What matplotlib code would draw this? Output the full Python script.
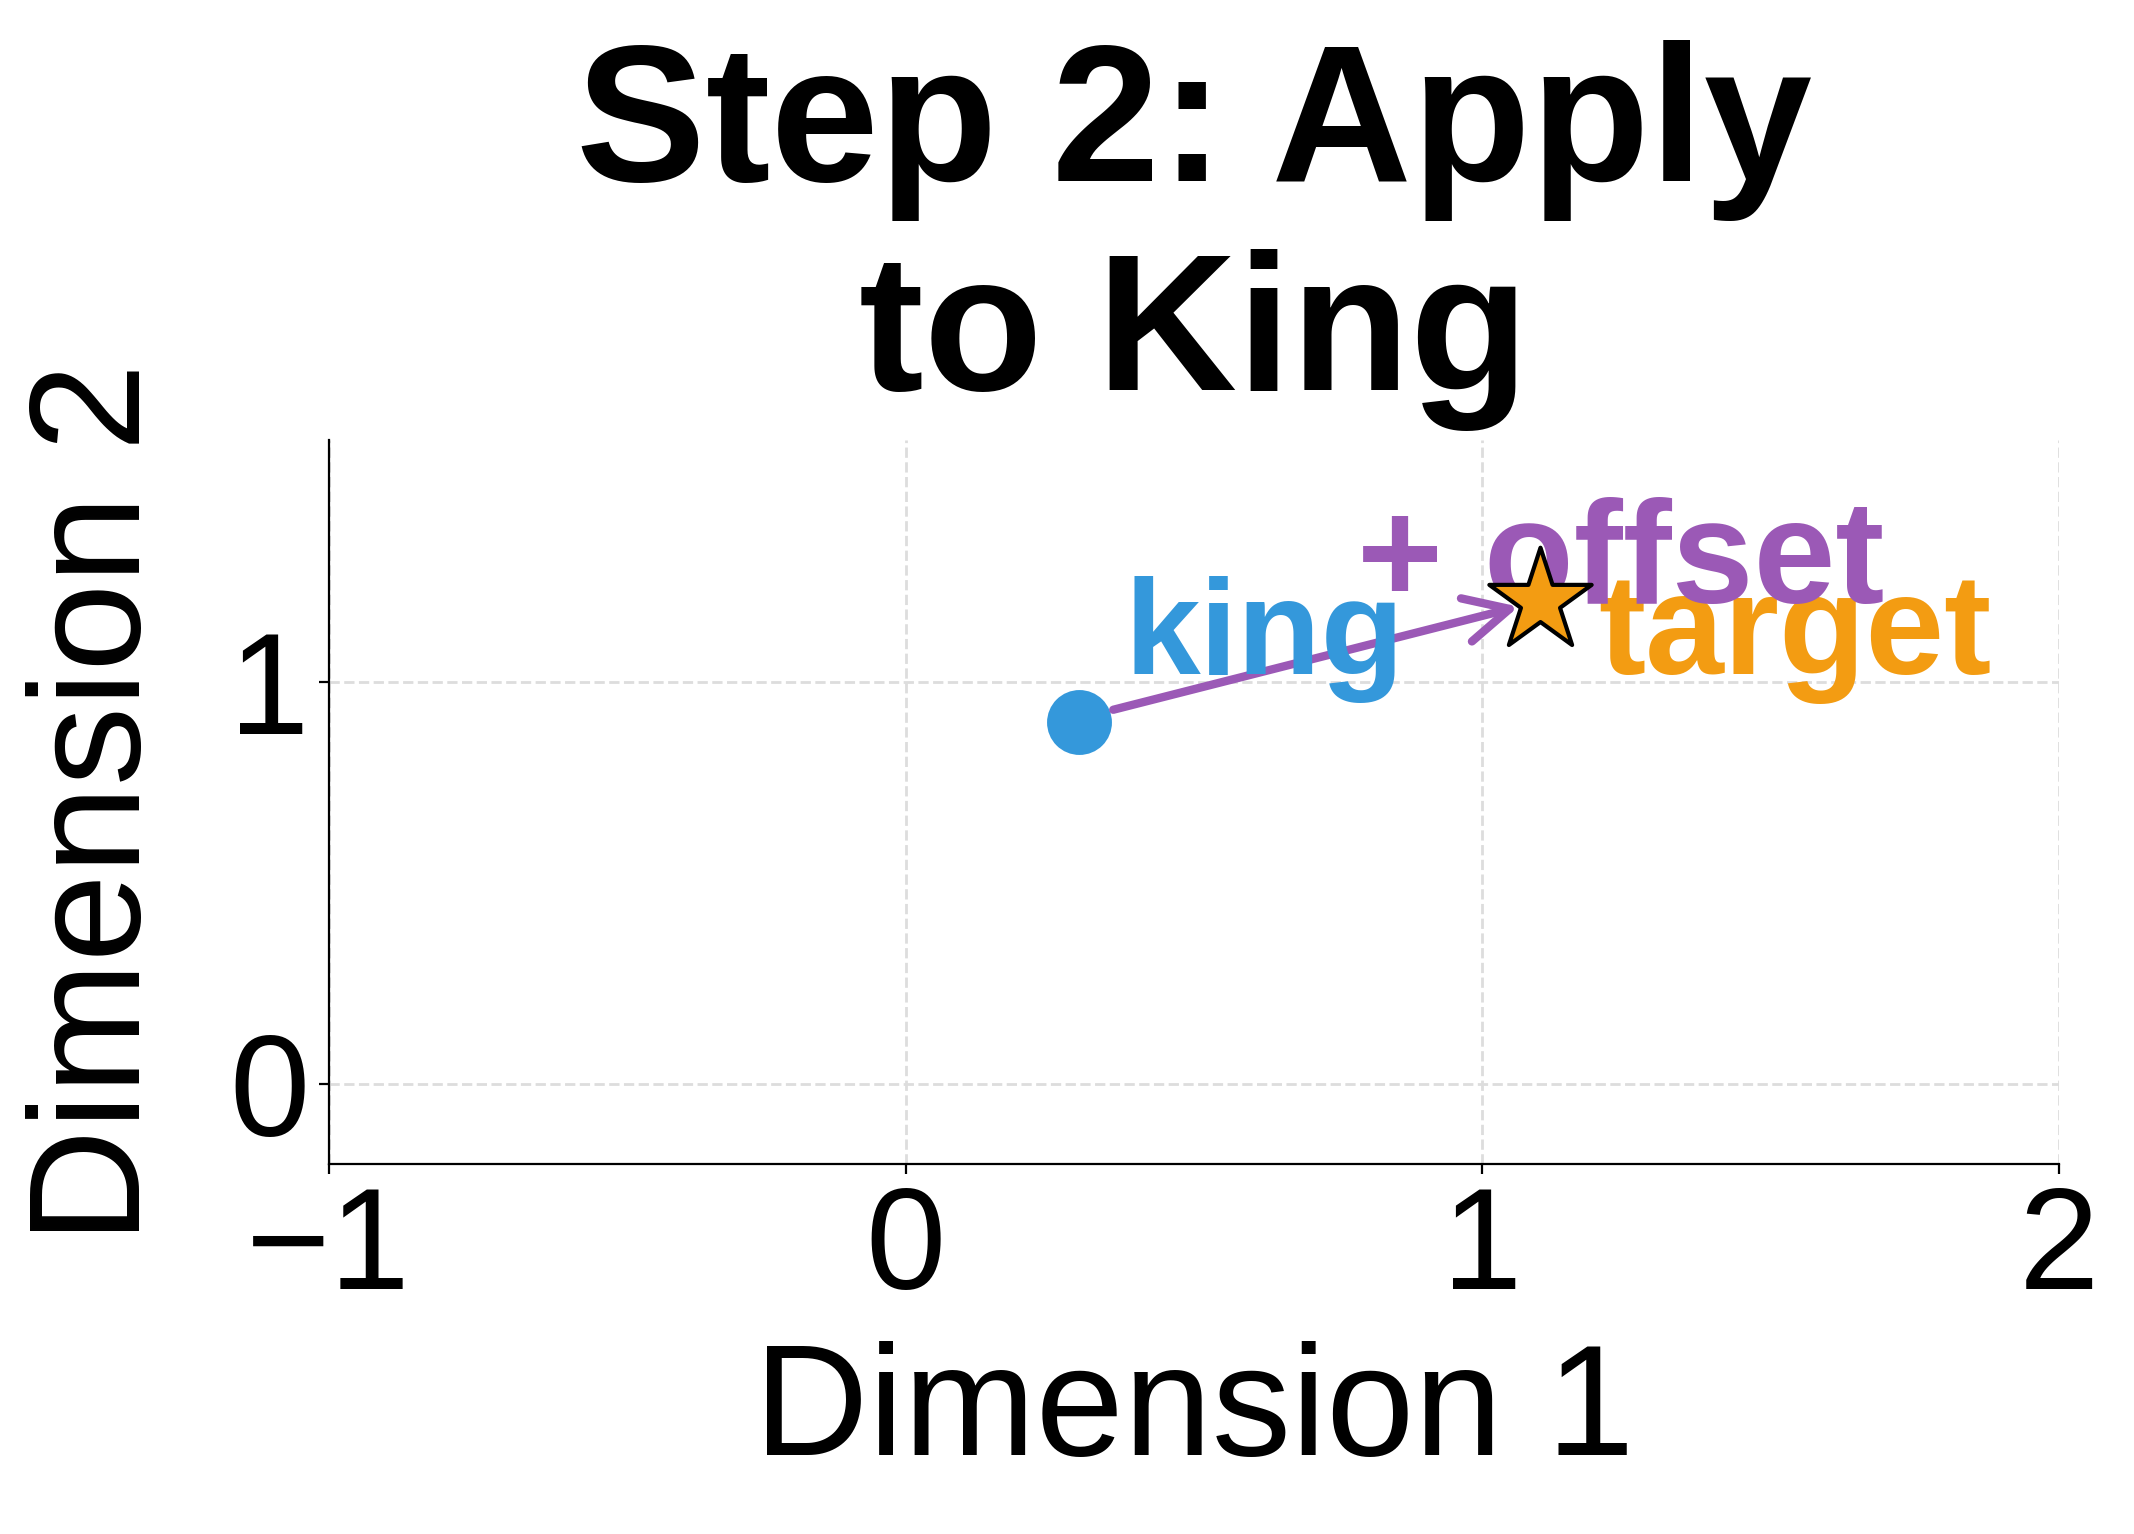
import matplotlib
matplotlib.use("Agg")
import matplotlib.pyplot as plt

plt.rcParams['font.family'] = ['Liberation Sans', 'DejaVu Sans']

king_xy = (0.3, 0.9)
target_xy = (1.1, 1.2)
offset_label_xy = (1.24, 1.29)
xticks = [-1, 0, 1, 2]
yticks = [0, 1]

fig = plt.figure(figsize=(10.67, 7.67), dpi=200)
ax = fig.add_axes([0.154, 0.241, 0.811, 0.472])

ax.scatter([king_xy[0]], [king_xy[1]], s=500, color='#3498db', zorder=3)
ax.scatter([target_xy[0]], [target_xy[1]], s=1500, marker='*', color='#f39c12',
           edgecolor='black', linewidth=1.5, zorder=4)
ax.annotate('', xy=target_xy, xytext=(king_xy[0] + 0.06, king_xy[1] + 0.03),
            arrowprops=dict(arrowstyle='->', color='#9b59b6', lw=3,
                            mutation_scale=40, shrinkA=0, shrinkB=8))

ax.text(0.38, 1.02, 'king', color='#3498db', fontsize=49, fontweight='bold')
ax.text(1.2, 1.02, 'target', color='#f39c12', fontsize=51, fontweight='bold')
ax.text(offset_label_xy[0], offset_label_xy[1], '+ offset', color='#9b59b6',
        fontsize=53, fontweight='bold', ha='center', va='center')

ax.set_xlim(-1, 2)
ax.set_ylim(-0.2, 1.6)
ax.set_xticks(xticks)
ax.set_yticks(yticks)
ax.tick_params(labelsize=52)
ax.grid(True, linestyle='--', color='#dddddd', linewidth=1)
ax.spines['top'].set_visible(False)
ax.spines['right'].set_visible(False)
ax.set_xlabel('Dimension 1', fontsize=57, labelpad=8)
ax.set_ylabel('Dimension 2', fontsize=57, labelpad=20)
ax.set_title('Step 2: Apply\nto King', fontsize=70, fontweight='bold', pad=18)

fig.savefig('out.png', dpi=200)
